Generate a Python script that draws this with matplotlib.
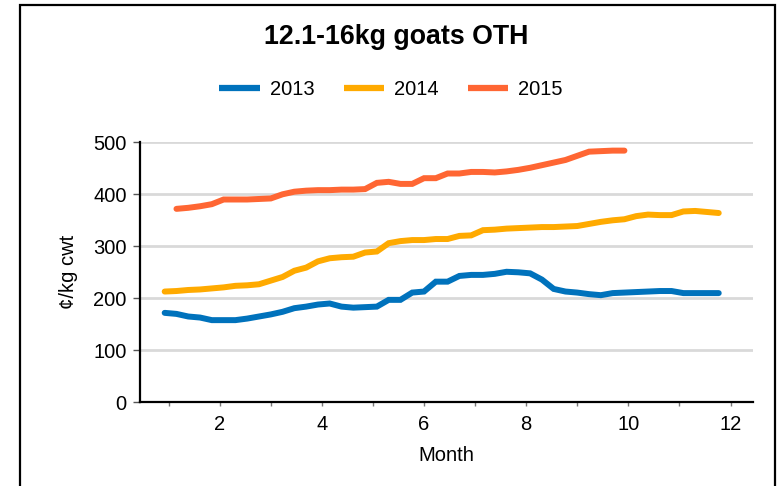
import matplotlib
matplotlib.use("Agg")
import matplotlib.pyplot as plt
from matplotlib.patches import Rectangle
from matplotlib.ticker import MultipleLocator

plt.rcParams['font.family'] = ['Liberation Sans', 'DejaVu Sans']

# Week numbers of the weekly reports (month = week * 12 / 52)
weeks_2013 = list(range(4, 52))
weeks_2014 = list(range(4, 52))
weeks_2015 = list(range(5, 44))

vals_2013 = [172, 170, 165, 163, 158, 158, 158, 161, 165, 169, 174, 181,
             184, 188, 190, 184, 182, 183, 184, 197, 197, 211, 213, 232,
             232, 243, 245, 245, 247, 251, 250, 248, 236, 218, 213, 211,
             208, 206, 210, 211, 212, 213, 214, 214, 210, 210, 210, 210]
vals_2014 = [213, 214, 216, 217, 219, 221, 224, 225, 227, 234, 241, 253,
             259, 271, 277, 279, 280, 288, 290, 306, 310, 312, 312, 314,
             314, 320, 321, 331, 332, 334, 335, 336, 337, 337, 338, 339,
             343, 347, 350, 352, 358, 361, 360, 360, 367, 368, 366, 364]
vals_2015 = [372, 374, 377, 381, 390, 390, 390, 391, 392, 400, 405, 407,
             408, 408, 409, 409, 410, 422, 424, 420, 420, 431, 431, 440,
             440, 443, 443, 442, 444, 447, 451, 456, 461, 466, 474, 482,
             483, 484, 484]

series = [("2013", weeks_2013, vals_2013, "#0072BC"),
          ("2014", weeks_2014, vals_2014, "#FFAA00"),
          ("2015", weeks_2015, vals_2015, "#FF6633")]

title = "12.1-16kg goats OTH"
x_label = "Month"
y_label = "¢/kg cwt"

fig = plt.figure(figsize=(7.82, 4.86), dpi=100)
ax = fig.add_axes([140 / 782, 1 - 402.3 / 486, 613 / 782, 260 / 486])

for name, weeks, vals, color in series:
    months = [w * 12 / 52 for w in weeks]
    ax.plot(months, vals, color=color, lw=4.3, solid_capstyle='round',
            solid_joinstyle='miter', label=name, zorder=3)

ax.set_xlim(0.44, 12.44)
ax.set_ylim(0, 500)
ax.xaxis.set_major_locator(MultipleLocator(2))
ax.xaxis.set_minor_locator(MultipleLocator(1))
ax.yaxis.set_major_locator(MultipleLocator(100))
ax.grid(axis='y', color='#d9d9d9', lw=2, zorder=0)
ax.set_axisbelow(True)
for s in ['top', 'right']:
    ax.spines[s].set_visible(False)
for s in ['left', 'bottom']:
    ax.spines[s].set_linewidth(1.6)
    ax.spines[s].set_color('black')
ax.tick_params(axis='y', which='major', length=5, width=1, color='#555555',
               pad=4.5, labelsize=14.5)
ax.tick_params(axis='x', which='major', length=3, width=1, color='#777777',
               pad=6, labelsize=14.5)
ax.tick_params(axis='x', which='minor', length=3, width=1, color='#777777')

ax.set_xlabel(x_label, fontsize=14.5, labelpad=9)
ax.set_ylabel(y_label, fontsize=14.5, labelpad=11)

fig.text(0.507, 0.923, title, ha='center', va='center', fontsize=19.3,
         fontweight='bold')

leg = fig.legend(loc='center', bbox_to_anchor=(0.5, 0.815), ncol=3,
                 frameon=False, fontsize=14.5, handlelength=2.0,
                 handletextpad=0.5, columnspacing=1.45)
for h in leg.get_lines():
    h.set_linewidth(4.5)
    h.set_solid_capstyle('butt')

fig.patches.append(Rectangle((19.5 / 782, -0.05), 755 / 782, 1.05 - 5 / 486,
                             transform=fig.transFigure, fill=False,
                             edgecolor='black', lw=1.6, zorder=10))

fig.savefig("out.png", dpi=100)
